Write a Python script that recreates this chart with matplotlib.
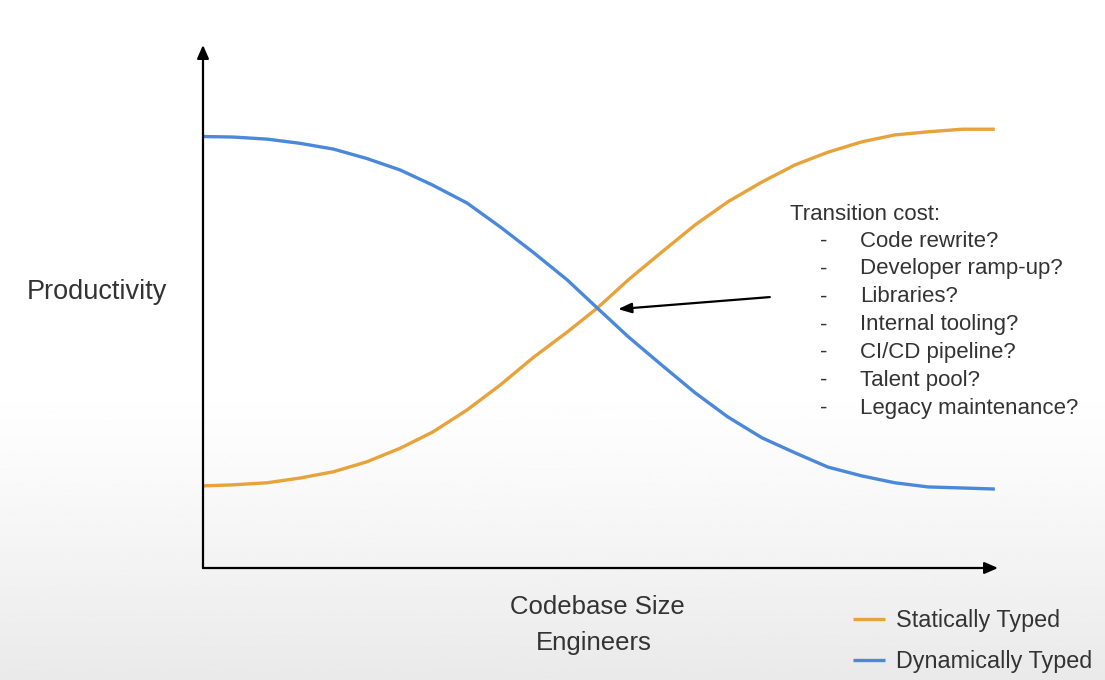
import numpy as np
import matplotlib
matplotlib.use("Agg")
import matplotlib.pyplot as plt

plt.rcParams['font.family'] = ['Liberation Sans', 'DejaVu Sans']

# curve samples (x: codebase size, y: productivity, 0-100)
size = [0, 3.8, 8.1, 12.2, 16.4, 20.6, 24.8, 28.9, 33.2, 37.4, 41.5, 45.8, 49.6,
        53.5, 57.7, 61.9, 66.0, 70.3, 74.5, 78.6, 82.9, 87.0, 91.2, 95.5, 99.6]
dynamic = [82.5, 82.4, 82.0, 81.2, 80.1, 78.3, 76.1, 73.2, 69.8, 65.2, 60.4, 55.1, 49.7,
           44.2, 38.8, 33.5, 28.9, 24.9, 22.0, 19.3, 17.6, 16.3, 15.5, 15.3, 15.1]
static = [15.7, 15.9, 16.3, 17.2, 18.4, 20.3, 22.9, 26.0, 30.2, 35.0, 40.2, 45.1, 49.7,
          55.1, 60.4, 65.6, 70.0, 73.8, 77.1, 79.5, 81.5, 82.8, 83.4, 83.9, 83.9]

costs = ["Code rewrite?", "Developer ramp-up?", "Libraries?", "Internal tooling?",
         "CI/CD pipeline?", "Talent pool?", "Legacy maintenance?"]

orange = "#e8a23a"
blue = "#4a88d9"
txt = "#333333"

W, H = 1105, 680
fig = plt.figure(figsize=(W / 100, H / 100), dpi=100)

# background: white fading to light grey at the bottom
bg = fig.add_axes([0, 0, 1, 1])
rows = np.linspace(0, 1, 300)
shade = np.clip((rows - 0.56) / 0.44, 0, 1)
grad = 1.0 - 0.085 * shade ** 1.2
bg.imshow(grad[:, None], cmap="gray", vmin=0, vmax=1, aspect="auto",
          extent=[0, 1, 0, 1], origin="upper")
bg.axis("off")

ax = fig.add_axes([203 / W, 1 - 568 / H, 795 / W, 523 / H])
ax.patch.set_alpha(0)
ax.set_xlim(0, 100)
ax.set_ylim(0, 100)
ax.axis("off")

# axes with arrow heads
arrow_kw = dict(arrowstyle="-|>,head_length=0.8,head_width=0.35", color="black", lw=1.6,
                shrinkA=0, shrinkB=0)
ax.annotate("", xy=(0, 100), xytext=(0, 0), arrowprops=arrow_kw, annotation_clip=False)
ax.annotate("", xy=(100, 0), xytext=(0, 0), arrowprops=arrow_kw, annotation_clip=False)

ax.plot(size, static, color=orange, lw=2.4, solid_capstyle="butt", solid_joinstyle="round",
        label="Statically Typed")
ax.plot(size, dynamic, color=blue, lw=2.4, solid_capstyle="butt", solid_joinstyle="round",
        label="Dynamically Typed")

ax.annotate("", xy=(52.2, 49.5), xytext=(71.3, 51.8),
            arrowprops=dict(arrowstyle="-|>,head_length=0.8,head_width=0.3",
                            color="black", lw=1.6, shrinkA=0, shrinkB=0))

fig.text(27 / W, 1 - 292 / H, "Productivity", fontsize=19.5, color=txt, va="center")
fig.text(597 / W, 1 - 607 / H, "Codebase Size", fontsize=18.5, color=txt, va="center", ha="center")
fig.text(594 / W, 1 - 643 / H, "Engineers", fontsize=18.5, color=txt, va="center", ha="center")

fig.text(790 / W, 1 - 214 / H, "Transition cost:", fontsize=16, color=txt, va="center")
for i, item in enumerate(costs):
    y = 1 - (241 + i * 27.9) / H
    fig.text(820 / W, y, "-", fontsize=16, color=txt, va="center")
    fig.text(860 / W, y, item, fontsize=16, color=txt, va="center")

ax.legend(loc="upper left", bbox_to_anchor=(853 / W, 1 - 609 / H),
          bbox_transform=fig.transFigure, frameon=False, fontsize=16.8,
          handlelength=1.35, handletextpad=0.5, labelspacing=0.76,
          borderaxespad=0, borderpad=0, labelcolor=txt)

fig.savefig("out.png", dpi=100)
